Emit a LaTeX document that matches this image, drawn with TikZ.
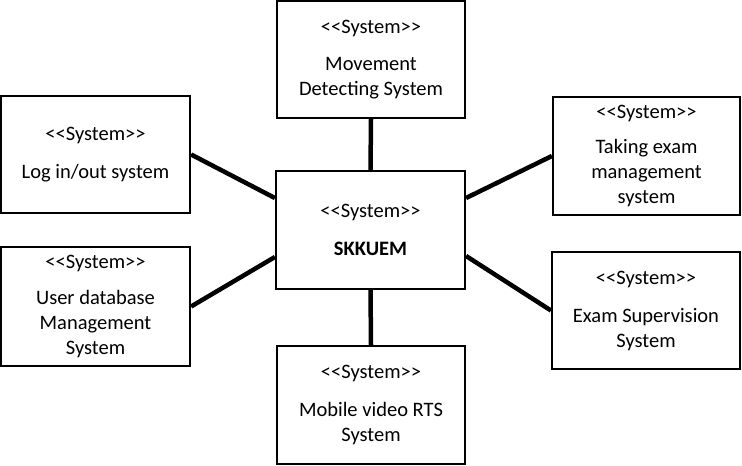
\documentclass[tikz,border=0pt]{standalone}
\usepackage{fontspec}
\setmainfont{Carlito}
\newcommand\stereo{<\kern0pt<System>\kern0pt>}
\tikzset{
  sys/.style={draw, line width=2.2pt, rectangle, inner sep=0pt, align=center,
    font=\fontsize{20.5}{25}\selectfont},
  link/.style={line width=4.5pt}
}
\begin{document}
\begin{tikzpicture}[x=1pt,y=-1pt]
\useasboundingbox (0,0) rectangle (742,466);
\node[sys, minimum width=188pt, minimum height=117pt] (tp) at (371,59.5) {\stereo\\[12.5pt]Movement\\Detecting System};
\node[sys, minimum width=189pt, minimum height=117pt] (lt) at (95.5,154.5) {\stereo\\[12.5pt]Log in/out system};
\node[sys, minimum width=189pt, minimum height=119pt] (lb) at (95.5,306.5) {\stereo\\[11pt]User database\\Management\\System};
\node[sys, minimum width=189pt, minimum height=118pt] (c) at (370.5,230) {\stereo\\[13pt]\textbf{SKKUEM}};
\node[sys, minimum width=187pt, minimum height=118pt] (rt) at (646.5,156) {\stereo\\[10pt]Taking exam\\management\\system};
\node[sys, minimum width=188pt, minimum height=117pt] (rb) at (646,310.5) {\stereo\\[13pt]Exam Supervision\\System};
\node[sys, minimum width=188pt, minimum height=118pt] (bt) at (371,405) {\stereo\\[13pt]Mobile video RTS\\System};
\draw[link] (tp.south) -- (c.north);
\draw[link] (c.south) -- (bt.north);
\draw[link] (lt.east) -- ([yshift=32pt]c.west);
\draw[link] (lb.east) -- ([yshift=-27pt]c.west);
\draw[link] ([yshift=32pt]c.east) -- (rt.west);
\draw[link] ([yshift=-26pt]c.east) -- (rb.west);
\end{tikzpicture}
\end{document}
